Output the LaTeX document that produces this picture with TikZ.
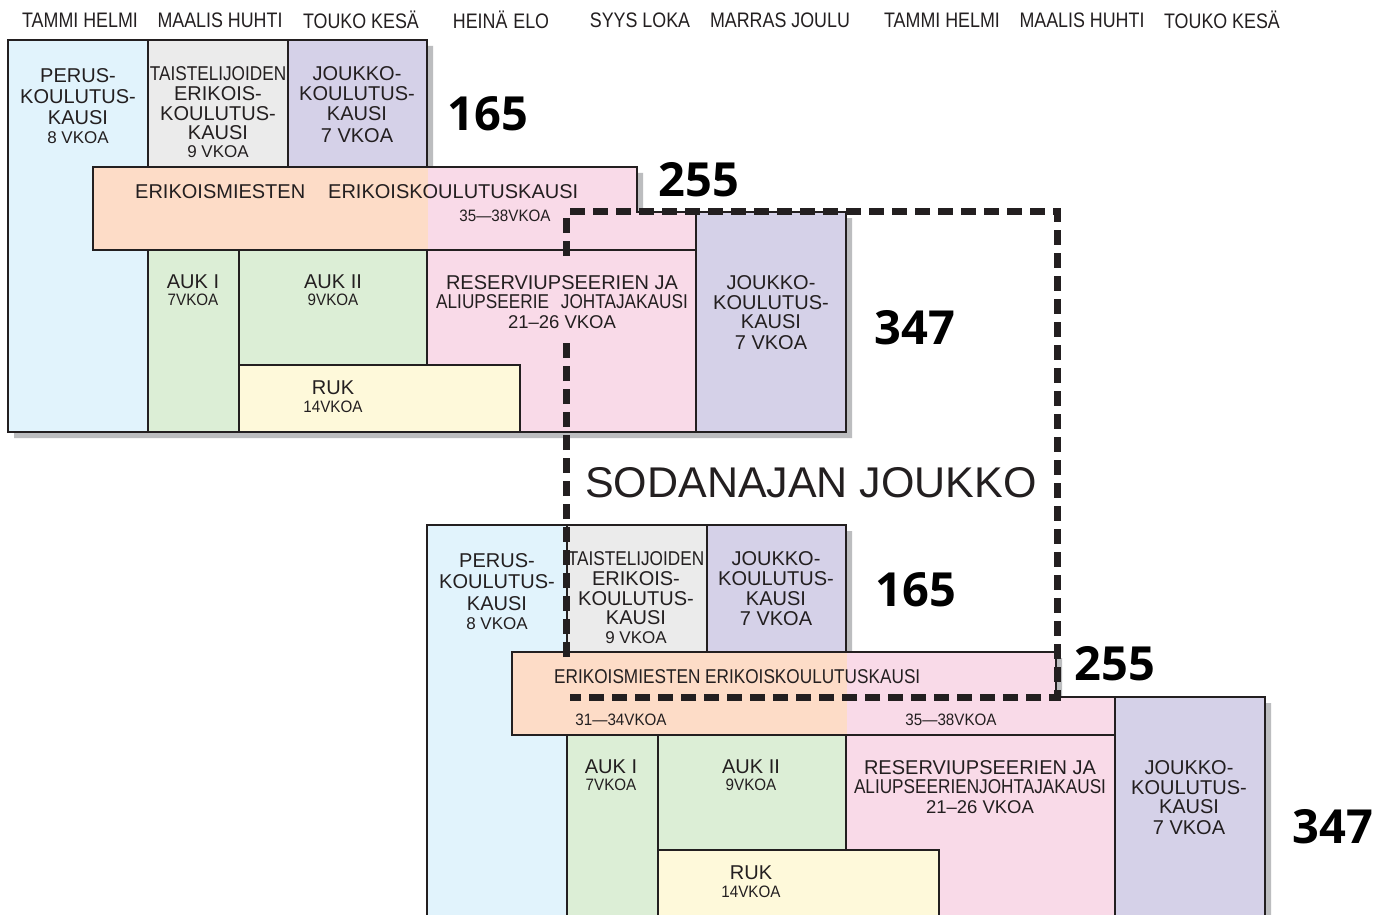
\documentclass[tikz,border=0pt]{standalone}
\usepackage{fontspec}
\setmainfont{Liberation Sans}
\newfontfamily\condA{Liberation Sans}[FakeStretch=0.86]
\newfontfamily\condB{Liberation Sans}[FakeStretch=0.92]
\newfontfamily\headfont{Liberation Sans}[FakeStretch=0.85]
\newfontfamily\numfont{Open Sans}
\definecolor{lblue}{HTML}{E1F3FC}
\definecolor{lgrey}{HTML}{EBEBEB}
\definecolor{lav}{HTML}{D5D1E8}
\definecolor{orng}{HTML}{FDDCC7}
\definecolor{pnk}{HTML}{F9DAE8}
\definecolor{grn}{HTML}{DCEED6}
\definecolor{ylw}{HTML}{FEF9DA}
\definecolor{shd}{HTML}{BCBDBF}
\definecolor{ink}{HTML}{231F20}
\newcommand\mainsz{\fontsize{20}{20}\selectfont}
\newcommand\smallsz{\fontsize{17}{17}\selectfont}
\newcommand\csmall{\condB\fontsize{16.5}{17}\selectfont}
\newcommand\blockshapes{%
  \fill[shd] (14,46) -- (433,46) -- (433,173) -- (643,173) -- (643,218) -- (852,218) -- (852,438) -- (14,438) -- cycle;
  \filldraw[box, fill=lblue] (8,40) rectangle (148,432);
  \filldraw[box, fill=lgrey] (148,40) rectangle (288,167);
  \filldraw[box, fill=lav] (288,40) rectangle (427,167);
  \fill[orng] (93,167) rectangle (428,250);
  \fill[pnk] (428,167) -- (637,167) -- (637,212) -- (696,212) -- (696,250) -- (428,250) -- cycle;
  \draw[box] (93,167) -- (637,167) -- (637,212) -- (696,212) -- (696,250) -- (93,250) -- cycle;
  \filldraw[box, fill=lav] (696,212) rectangle (846,432);
  \filldraw[box, fill=grn] (148,250) rectangle (239,432);
  \filldraw[box, fill=grn] (239,250) rectangle (427,365);
  \filldraw[box, fill=pnk] (427,250) rectangle (696,432);
  \filldraw[box, fill=ylw] (239,365) rectangle (520,432);
}
\tikzset{
  box/.style={draw=ink, line width=1.8pt},
  txt/.style={text=ink, inner sep=0pt, align=center, anchor=north},
  lbl/.style={text=ink, inner sep=0pt},
  head/.style={text=ink, inner sep=0pt, font=\headfont\fontsize{21}{21}\selectfont},
  bignum/.style={text=black, inner sep=0pt, font=\numfont\bfseries\fontsize{47}{47}\selectfont},
  frontline/.style={draw=ink, line width=7pt, dash pattern=on 15pt off 8pt}
}
\begin{document}
\begin{tikzpicture}[x=1pt, y=-1pt]
\useasboundingbox (0,0) rectangle (1390,915);
\clip (0,0) rectangle (1390,915);
\fill[white] (0,0) rectangle (1390,915);

% month header
\node[head] (h1) at (80,20) {TAMMI HELMI};
\node[head] (h2) at (220,20) {MAALIS HUHTI};
\node[head] (h3) at (361,20) {TOUKO KESÄ};
\node[head] (h4) at (501,20) {HEINÄ\hspace{6pt}ELO};
\node[head] (h5) at (640,20) {SYYS LOKA};
\node[head] (h6) at (780,20) {MARRAS JOULU};
\node[head] (h7) at (942,20) {TAMMI HELMI};
\node[head] (h8) at (1082,20) {MAALIS HUHTI};
\node[head] (h9) at (1222,20) {TOUKO KESÄ};

% shapes
\blockshapes
\begin{scope}[shift={(419,485)}]
\blockshapes
\end{scope}

% top block texts
\node[txt, font=\fontsize{20}{21}\selectfont] (tperus) at (78,68) {PERUS-\\KOULUTUS-\\KAUSI\\[-2pt]{\smallsz 8 VKOA}};
\node[txt, font=\fontsize{20}{20}\selectfont] (ttaist) at (218,66) {{\condA TAISTELIJOIDEN}\\ERIKOIS-\\KOULUTUS-\\[-1pt]KAUSI\\[-2pt]{\smallsz 9 VKOA}};
\node[txt, font=\fontsize{20}{20}\selectfont] (tjk1) at (357,66) {JOUKKO-\\KOULUTUS-\\KAUSI\\[2pt]7 VKOA};
\node[lbl, anchor=west, font=\mainsz] (terikA) at (135,192) {ERIKOISMIESTEN};
\node[lbl, anchor=west, font=\mainsz] (terikB) at (328,192) {ERIKOISKOULUTUSKAUSI};
\node[lbl, font=\csmall] (t3538) at (505,216) {35—38VKOA};
\node[txt, font=\fontsize{20}{20}\selectfont] (tauk1) at (193,275) {AUK I\\[-3pt]{\csmall 7VKOA}};
\node[txt, font=\fontsize{20}{20}\selectfont] (tauk2) at (333,275) {AUK II\\[-3pt]{\csmall 9VKOA}};
\node[txt, font=\fontsize{20}{19}\selectfont] (tres) at (562,275) {RESERVIUPSEERIEN JA\\{\condA ALIUPSEERIE\hspace{12pt}JOHTAJAKAUSI}\\[1pt]{\fontsize{18.5}{19}\selectfont 21–26 VKOA}};
\node[txt, font=\fontsize{20}{20}\selectfont] (tjk2) at (771,275) {JOUKKO-\\KOULUTUS-\\[-1pt]KAUSI\\[1pt]7 VKOA};
\node[txt, font=\fontsize{20}{20}\selectfont] (truk) at (333,381) {RUK\\[-2pt]{\csmall 14VKOA}};
\node[bignum] (t165) at (488,114) {165};
\node[bignum] (t255) at (699,180) {255};
\node[bignum] (t347) at (915,328) {347};

% bottom block texts
\node[txt, font=\fontsize{20}{21}\selectfont] (bperus) at (497,553) {PERUS-\\KOULUTUS-\\[1pt]KAUSI\\[-2pt]{\smallsz 8 VKOA}};
\node[txt, font=\fontsize{20}{20}\selectfont] (btaist) at (636,551) {{\condA TAISTELIJOIDEN}\\ERIKOIS-\\KOULUTUS-\\[-1pt]KAUSI\\[-1pt]{\smallsz 9 VKOA}};
\node[txt, font=\fontsize{20}{20}\selectfont] (bjk1) at (776,551) {JOUKKO-\\KOULUTUS-\\KAUSI\\[0pt]7 VKOA};
\node[lbl, anchor=west, font=\condA\fontsize{20}{20}\selectfont] (berik) at (554,677) {ERIKOISMIESTEN ERIKOISKOULUTUSKAUSI};
\node[lbl, font=\csmall] (b3134) at (621,720) {31—34VKOA};
\node[lbl, font=\csmall] (b3538) at (951,720) {35—38VKOA};
\node[txt, font=\fontsize{20}{20}\selectfont] (bauk1) at (611,760) {AUK I\\[-3pt]{\csmall 7VKOA}};
\node[txt, font=\fontsize{20}{20}\selectfont] (bauk2) at (751,760) {AUK II\\[-3pt]{\csmall 9VKOA}};
\node[txt, font=\fontsize{20}{19}\selectfont] (bres) at (980,760) {RESERVIUPSEERIEN JA\\{\condA ALIUPSEERIENJOHTAJAKAUSI}\\[1pt]{\fontsize{18.5}{19}\selectfont 21–26 VKOA}};
\node[txt, font=\fontsize{20}{20}\selectfont] (bjk2) at (1189,760) {JOUKKO-\\KOULUTUS-\\[-1pt]KAUSI\\[1pt]7 VKOA};
\node[txt, font=\fontsize{20}{20}\selectfont] (bruk) at (751,866) {RUK\\[-2pt]{\csmall 14VKOA}};
\node[bignum] (b165) at (916,590) {165};
\node[bignum] (b255) at (1115,664) {255};
\node[bignum] (b347) at (1333,827) {347};

% wartime unit frame (left side interrupted behind the text)
\coordinate (fa) at (566,657);
\coordinate (fg) at (566,337);
\coordinate (fh) at (566,256);
\coordinate (fi) at (566,218);
\coordinate (fj) at (570,211);
\coordinate (fc) at (1057,211);
\coordinate (fd) at (1057,697);
\coordinate (fe) at (570,697);
\draw[frontline] (fa) -- (fg);
\draw[frontline] (fh) -- (fi);
\draw[frontline] (fj) -- (fc) -- (fd) -- (fe);
\node[lbl, font=\fontsize{43}{43}\selectfont] (sodan) at (811,483) {SODANAJAN JOUKKO};
\end{tikzpicture}
\end{document}
